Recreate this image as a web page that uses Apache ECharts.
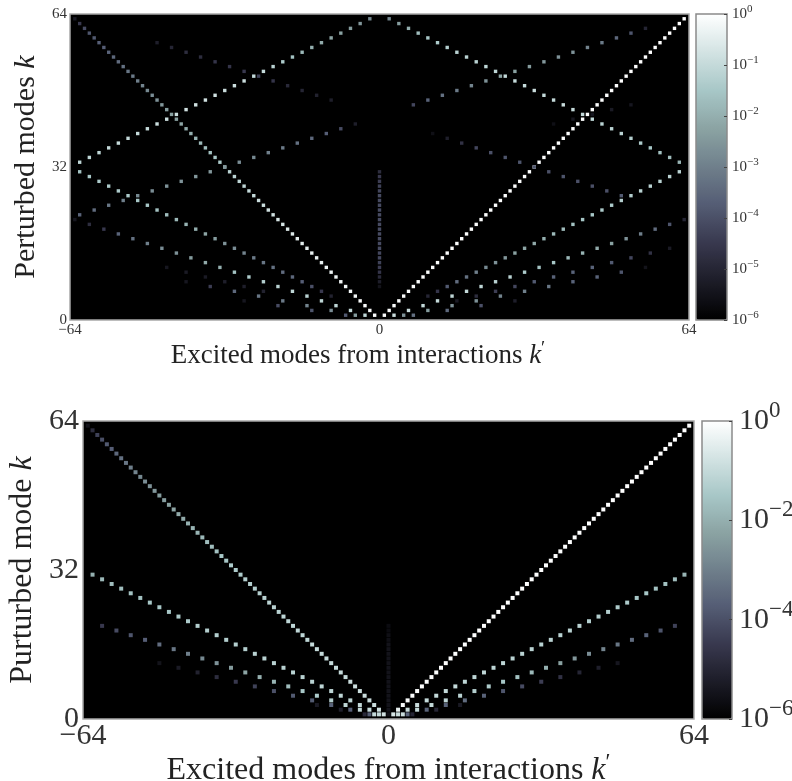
<!DOCTYPE html>
<html><head><meta charset="utf-8">
<style>html,body{margin:0;padding:0;background:#fff}#c{width:792px;height:781px}</style>
<script src="https://cdn.jsdelivr.net/npm/echarts@6/dist/echarts.min.js"></script>
</head><body><div id="c"></div>
<script>
// All values are log10 amplitudes; each list runs with k ascending.
const boneColors=['#000000','#1c1c27','#38384e','#545c74','#6f7f8b','#8ba3a3','#a7c7c7','#d3e3e3','#ffffff'];
const xTicks=[-64,0,64];
const yTicks=[0,32,64];
const barTicks=[0,-1,-2,-3,-4,-5,-6];
const barTicksBottom=[0,-2,-4,-6];

// --- upper panel ---
const topDiagRight=[-.1,-.1,-.08,-.08,-.08,-.08,-.06,-.06,-.06,-.06,-.06,-.06,-.05,-.05,-.05,-.05,-.05,-.05,-.05,-.05,-.05,-.04,-.04,-.04,-.04,-.04,-.04,-.04,-.04,-.04,-.04,-.03,-.03,-.03,-.03,-.03,-.03,-.03,-.03,-.03,-.03,-.03,-.03,-.03,-.03,-.03,-.03,-.02,-.02,-.02,-.02,-.02,-.02,-.02,-.02,-.02,-.02,-.02,-.02,-.02,-.02,-.02,-.02];
const topDiagLeft=[-.1,-.1,-.1,-.1,-.2,-.2,-.2,-.2,-.3,-.3,-.3,-.4,-.4,-.4,-.5,-.5,-.5,-.6,-.6,-.7,-.7,-.8,-.8,-.9,-.9,-1,-1,-1.1,-1.1,-1.2,-1.2,-1.3,-1.4,-1.5,-1.6,-1.7,-1.8,-1.9,-2,-2.1,-2.2,-2.3,-2.3,-2.4,-2.5,-2.6,-2.7,-2.8,-2.9,-3,-3.1,-3.2,-3.3,-3.4,-3.5,-3.6,-3.7,-3.7,-3.8,-3.9,-4.1,-4.5,-5.3];
const topRoofLeft=[-1.1,-1.1,-1.1,-1,-1,-1,-1,-1,-.9,-.9,-.9,-.8,-.8,-.8,-.8,-.9,-.9,-.9,-1,-1,-1.2,-1.4,-1.6,-1.8,-2,-2.1,-2.2,-2.3,-2.4,-2.5,-2.8];
const topRoofRight=[-1.9,-1.7,-1.6,-1.5,-1.4,-1.3,-1.2,-1.2,-1.2,-1.1,-1,-1,-.9,-1,-1,-.9,-1,-1,-1,-1.1,-1.1,-1.2,-1.2,-1.2,-1.3,-1.4,-1.5,-1.7,-2,-2.4,-2.8];
const topDoubleRight=[-5,-4.6,-3.8,-3.4,-3.3,-3,-2.8,-2.6,-2.5,-2.3,-2.2,-2.1,-2,-1.8,-1.7,-1.6,-1.5,-1.5,-1.4,-1.4,-1.3,-1.3,-1.2,-1.2,-1.2,-1.2,-1.2];
const topDoubleLeft=[-5.1,-4.5,-4,-3.7,-3.5,-3.4,-3.3,-3.2,-3.1,-2.9,-2.7,-2.6,-2.4,-2.2,-2,-1.9,-1.8,-1.7,-1.6,-1.5,-1.5,-1.4,-1.4,-1.4,-1.4,-1.5,-1.6];
const topTripleRight=[-.9,-.9,-1,-1,-1.1,-1,-1.1,-1.2,-1.2,-1.4,-1.6,-1.5,-1.8,-1.9,-2.1,-2.3,-2.6,-3,-3.4,-3.9,-5];
const topTripleLeft=[-1.1,-1,-1.1,-1.1,-1.2,-1.1,-1.2,-1.3,-1.4,-1.6,-2,-2.1,-2.4,-2.6,-2.7,-3,-3.3,-3.6,-4.5,-4.8,-5.4];
const topFoldLeftA=[-3.6,-3.4,-3.2,-3,-2.8,-2.7,-2.6,-2.6,-2.5,-2.5,-2.5,-2.7,-2.8,-3,-3.1,-3.3,-3.5,-3.7,-4.1,-5.2];
const topFoldLeftB=[-5.2,-5.1,-5,-4.9,-4.6,-4.3,-4.5,-4.6,-4.6,-4.8,-4.8,-5,-5.2];
const topFoldRightA=[-4.2,-3.6,-3.3,-3.1,-2.9,-2.6,-2.2,-2.3,-2.4,-2.5,-2.6,-2.6,-2.9,-3.1,-3.5,-3.9,-5];
const topFoldRightB=[-3.8,-4,-4,-4,-3.9,-4,-3.9,-3.9,-3.9,-4,-4.2,-4.7,-5.2,-5.6];
const topFoldRightC=[-5.6,-5.4,-5.4,-5.3,-5.4];
const topQuadRight=[-5.3,-4.8,-4.4,-4.2,-3.8,-3.6,-3.6,-3.6,-3.8,-4.2,-4.7,-5.3];
const topQuadLeft=[-5.1,-5.2,-5.2,-5.3,-5.3,-5.4];
const topQuintRight=[-2.6,-2.4,-2.6,-2.6,-2.9,-3,-3.2,-3.6,-3.6,-3.9,-5.5];
const topQuintLeft=[-2.4,-2.7,-2.9,-3.1,-3.2,-3.5,-4.4,-5.4];
const topSeptRight=[-3.3,-3.5,-4,-5.2];
const topSeptLeft=[-3.8,-3.9,-4.1,-5.4];
const topCentre=[-5.5,-5.2,-4.9,-4.6,-4.4,-4.3,-4.2,-4.2,-4.1,-4.1,-4.1,-4.1,-4.1,-4.1,-4.1,-4.1,-4.1,-4.1,-4.1,-4.1,-4.2,-4.3,-4.4,-4.5,-4.8];

// --- lower panel ---
const botDiagRight=[-.7,-.4,-.1,-.08,-.06,-.06,-.05,-.05,-.05,-.05,-.05,-.05,-.04,-.04,-.04,-.04,-.04,-.04,-.04,-.04,-.04,-.04,-.03,-.03,-.03,-.03,-.03,-.03,-.03,-.03,-.03,-.03,-.03,-.03,-.03,-.03,-.03,-.03,-.03,-.03,-.03,-.03,-.02,-.02,-.02,-.02,-.02,-.02,-.02,-.02,-.02,-.02,-.02,-.02,-.02,-.02,-.02,-.02,-.02,-.02,-.02,-.02,-.02];
const botDiagLeft=[-.8,-.8,-.9,-.9,-.9,-.9,-.9,-.9,-1,-1,-1,-1,-1,-1,-1,-1,-1.1,-1.1,-1.1,-1.1,-1.1,-1.1,-1.2,-1.2,-1.2,-1.2,-1.3,-1.3,-1.3,-1.3,-1.4,-1.4,-1.4,-1.5,-1.5,-1.6,-1.7,-1.7,-1.8,-1.9,-1.9,-2,-2.1,-2.1,-2.2,-2.3,-2.4,-2.4,-2.5,-2.6,-2.7,-2.8,-2.9,-3,-3.2,-3.3,-3.5,-3.7,-3.8,-4,-4.3,-4.8,-5.5];
const botDoubleRight=[-.9,-.9,-.9,-1,-1,-1,-1,-1.1,-1.1,-1.1,-1.1,-1.1,-1.2,-1.2,-1.2,-1.2,-1.2,-1.2,-1.2,-1.2,-1.3,-1.3,-1.3,-1.4,-1.4,-1.5,-1.5,-1.6,-1.6,-1.7,-1.9];
const botDoubleLeft=[-1,-1,-1,-1.1,-1.1,-1.1,-1.1,-1.2,-1.2,-1.2,-1.2,-1.2,-1.2,-1.2,-1.3,-1.3,-1.3,-1.3,-1.3,-1.3,-1.4,-1.4,-1.5,-1.5,-1.5,-1.6,-1.6,-1.7,-1.7,-1.8,-2];
const botTripleRight=[-.9,-1,-1,-1.1,-1.2,-1.3,-1.4,-1.5,-1.6,-1.8,-2,-2.3,-2.5,-2.7,-2.9,-3.2,-3.4,-3.6,-3.9,-4.3];
const botTripleLeft=[-1,-1,-1.1,-1.3,-1.4,-1.5,-1.7,-1.9,-2,-2.2,-2.4,-2.6,-2.8,-3,-3.2,-3.4,-3.7,-3.9,-4.1,-4.5];
const botQuadRight=[-3.6,-3.6,-3.6,-3.4,-3.6,-3.9,-4.1,-4.4,-4.7,-5,-5.2,-5.4];
const botQuadLeft=[-3.8,-3.7,-3.6,-3.8,-3.8,-4,-4.3,-4.5,-4.8,-5.1,-5.3,-5.5];
const botQuintRight=[-5,-5,-5.3];
const botQuintLeft=[-4.9,-5.2,-5.3];
const botCentre=[-5.5,-5.5,-5.5,-5.5,-5.5,-5.5,-5.5,-5.5,-5.5,-5.5,-5.5,-5.5,-5.5,-5.5,-5.5,-5.5,-5.6,-5.6,-5.7,-5.7];

// one ridge of cells: start cell, step per row, amplitude read for each row
function ridge(kp,k,dKp,vals){return vals.map((v,i)=>[kp+dKp*i,k+i,v]);}

const topCells=[].concat(
  ridge(1,1,1,topDiagRight),ridge(-1,1,-1,topDiagLeft),
  ridge(-62,33,2,topRoofLeft),ridge(62,33,-2,topRoofRight),
  ridge(10,5,2,topDoubleRight),ridge(-10,5,-2,topDoubleLeft),
  ridge(3,1,3,topTripleRight),ridge(-3,1,-3,topTripleLeft),
  ridge(-62,22,3,topFoldLeftA),ridge(-10,46,-3,topFoldLeftB),
  ridge(7,45,3,topFoldRightA),ridge(50,26,-3,topFoldRightB),
  ridge(36,41,4,topFoldRightC),
  ridge(16,4,4,topQuadRight),ridge(-24,6,-4,topQuadLeft),
  ridge(5,1,5,topQuintRight),ridge(-5,1,-5,topQuintLeft),
  ridge(7,1,7,topSeptRight),ridge(-7,1,-7,topSeptLeft),
  ridge(0,7,0,topCentre)
);
const botCells=[].concat(
  ridge(1,1,1,botDiagRight),ridge(-1,1,-1,botDiagLeft),
  ridge(2,1,2,botDoubleRight),ridge(-2,1,-2,botDoubleLeft),
  ridge(3,1,3,botTripleRight),ridge(-3,1,-3,botTripleLeft),
  ridge(4,1,4,botQuadRight),ridge(-4,1,-4,botQuadLeft),
  ridge(5,1,5,botQuintRight),ridge(-5,1,-5,botQuintLeft),
  ridge(0,1,0,botCentre)
);

const serif='"Liberation Serif","DejaVu Serif",serif';
const ink='#333';
const frame='#a8a8a8';

function nameRich(size){return {
  a:{fontFamily:serif,fontSize:size,color:'#222'},
  i:{fontFamily:serif,fontSize:size,fontStyle:'italic',color:'#222'},
  s:{fontFamily:serif,fontSize:size*0.7,color:'#222',padding:[0,0,size*0.45,0]}
};}
function plotGrid(left,top,width,height){return {left,top,width,height,show:true,backgroundColor:'#000',borderColor:frame,borderWidth:1.5,outerBoundsMode:'none'};}
function barGrid(left,top,width,height){return {left,top,width,height,show:true,backgroundColor:'transparent',borderColor:'#8a8a8a',borderWidth:1.5,z:5,outerBoundsMode:'none'};}
function xAx(idx,size,margin,name,gap,padRight,nameSize){return {
  type:'value',gridIndex:idx,min:-64,max:64,interval:64,
  axisLine:{show:false},axisTick:{show:false},splitLine:{show:false},
  axisLabel:{fontFamily:serif,fontSize:size,color:ink,margin,hideOverlap:false,showMinLabel:true,showMaxLabel:true,
    formatter:v=>xTicks.includes(v)?String(v).replace('-','\u2212'):''},
  name:name,nameLocation:'middle',nameGap:gap,
  nameTextStyle:{rich:nameRich(nameSize),padding:[0,padRight,0,0]}
};}
function yAx(idx,size,margin,name,gap,nameSize){return {
  type:'value',gridIndex:idx,min:0,max:64,interval:32,
  axisLine:{show:false},axisTick:{show:false},splitLine:{show:false},
  axisLabel:{fontFamily:serif,fontSize:size,color:ink,margin,showMinLabel:true,showMaxLabel:true,formatter:v=>yTicks.includes(v)?String(v):''},
  name:name,nameLocation:'middle',nameGap:gap,nameRotate:90,
  nameTextStyle:{rich:nameRich(nameSize)}
};}
function barX(idx){return {type:'value',gridIndex:idx,min:0,max:1,show:false};}
function barY(idx,ticks,interval,size,sup,raise,margin){return {
  type:'value',gridIndex:idx,min:-6,max:0,interval,position:'right',z:6,
  axisLine:{show:false,onZero:false},splitLine:{show:false},
  axisTick:{show:true,inside:true,length:3,lineStyle:{color:'#444',width:1}},
  axisLabel:{margin,showMinLabel:true,showMaxLabel:true,
    formatter:v=>ticks.includes(v)?`{b|10}{s|${v===0?'0':'\u2212'+Math.abs(v)}}`:'',
    rich:{b:{fontFamily:serif,fontSize:size,color:ink},s:{fontFamily:serif,fontSize:sup,color:ink,padding:[0,0,raise,0]}}}
};}
function cmap(idx,left,top,w,h){return {
  type:'continuous',seriesIndex:idx,dimension:2,min:-6,max:0,calculable:false,
  left,top,itemWidth:w,itemHeight:h,padding:0,showLabel:false,text:null,z:1,hoverLink:false,
  inRange:{color:boneColors}
};}

const chart=echarts.init(document.getElementById('c'),null,{renderer:'canvas'});
chart.setOption({
  animation:false,
  backgroundColor:'#fff',
  grid:[plotGrid(70,14,619,306),barGrid(696,14,31,306),plotGrid(83,421,611,298),barGrid(702,421,30,298)],
  xAxis:[
    xAx(0,15,3,'{a|Excited modes from interactions }{i|k}{s|\u2032}',20,43,27),
    barX(1),
    xAx(2,30,2,'{a|Excited modes from interactions }{i|k}{s|\u2032}',29,0,32),
    barX(3)
  ],
  yAxis:[
    yAx(0,15,3,'{a|Perturbed modes }{i|k}',18,30),
    barY(1,barTicks,1,15,11,9,5),
    yAx(2,30,4,'{a|Purturbed mode }{i|k}',28,32),
    barY(3,barTicksBottom,2,30,23,20,7)
  ],
  visualMap:[cmap(0,696,14,31,306),cmap(1,702,421,30,298)],
  series:[
    {type:'scatter',xAxisIndex:0,yAxisIndex:0,symbol:'rect',symbolSize:3.4,itemStyle:{opacity:1},data:topCells,silent:true},
    {type:'scatter',xAxisIndex:2,yAxisIndex:2,symbol:'rect',symbolSize:4,itemStyle:{opacity:1},data:botCells,silent:true}
  ]
});
</script></body></html>
